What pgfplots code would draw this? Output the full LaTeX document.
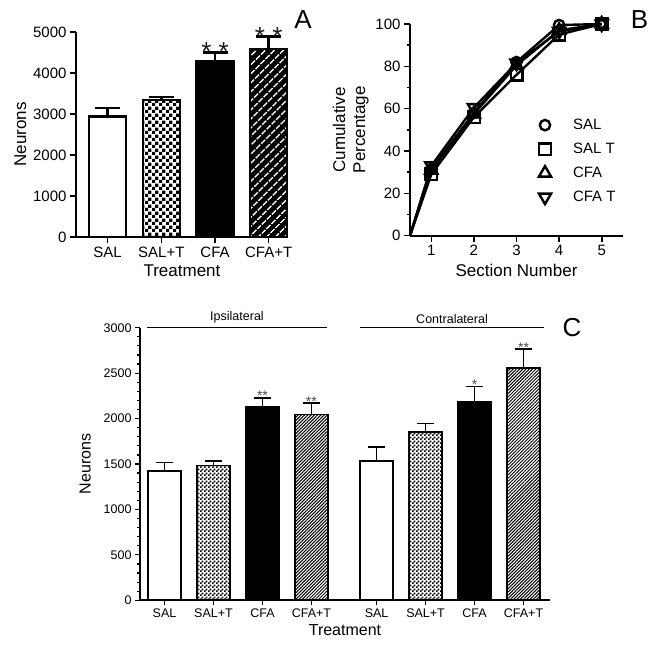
\documentclass[border=0pt]{standalone}
\usepackage{fontspec}
\setmainfont{Liberation Sans}
\usepackage{pgfplots}
\pgfplotsset{compat=1.18}
\usetikzlibrary{patterns,patterns.meta}

\pgfdeclarepatternformonly{bigchecker}{\pgfpointorigin}{\pgfqpoint{6.6pt}{6.6pt}}{\pgfqpoint{6.6pt}{6.6pt}}{%
  \pgfpathrectangle{\pgfpointorigin}{\pgfqpoint{3.35pt}{3.35pt}}%
  \pgfpathrectangle{\pgfqpoint{3.3pt}{3.3pt}}{\pgfqpoint{3.35pt}{3.35pt}}%
  \pgfusepath{fill}}
\pgfdeclarepatternformonly{smallchecker}{\pgfpointorigin}{\pgfqpoint{4pt}{4pt}}{\pgfqpoint{4pt}{4pt}}{%
  \pgfpathrectangle{\pgfpointorigin}{\pgfqpoint{2.05pt}{2.05pt}}%
  \pgfpathrectangle{\pgfqpoint{2pt}{2pt}}{\pgfqpoint{2.05pt}{2.05pt}}%
  \pgfusepath{fill}}

\pgfplotsset{
  prism/.style={
    scale only axis,
    anchor=south west,
    axis lines=left,
    axis line style={-, line width=2pt},
    tick align=outside,
    tick style={black, line width=1.6pt},
    major tick length=6pt,
    minor tick length=3.5pt,
    /pgf/number format/assume math mode=true,
    /pgf/number format/1000 sep={},
    clip=false,
  },
  zerobar/.style={bar shift=0pt},
  errA/.style={error bars/y dir=plus, error bars/y explicit,
    error bars/error bar style={line width=2.4pt, black, solid},
    error bars/error mark options={rotate=90, line width=2.4pt, mark size=12.5pt, black, solid}},
  errC/.style={error bars/y dir=plus, error bars/y explicit,
    error bars/error bar style={line width=1.8pt, black, solid},
    error bars/error mark options={rotate=90, line width=1.8pt, mark size=8.5pt, black, solid}},
}

\begin{document}
\begin{tikzpicture}
\path[use as bounding box] (0,0) rectangle (654pt,648pt);

% ---------------- Panel A ----------------
\begin{axis}[prism,
  at={(76pt,411pt)}, width=212pt, height=205pt,
  xmin=0.41, xmax=4.36, ymin=0, ymax=5000,
  ytick={0,1000,...,5000},
  xtick={1,2,3,4}, xticklabels={SAL,SAL+T,CFA,CFA+T},
  tick label style={font=\fontsize{15}{18}\selectfont},
  label style={font=\fontsize{17}{20}\selectfont},
  xlabel={Treatment}, ylabel={Neurons},
  xlabel style={yshift=-1pt},
  ybar, bar width=0.69,
]
\addplot[zerobar, errA, draw=black, line width=2.5pt, fill=white]
  coordinates {(1,2944) +- (0,196)};
\addplot[zerobar, errA, draw=black, line width=2.5pt, preaction={fill=white}, pattern=bigchecker]
  coordinates {(2,3340) +- (0,80)};
\addplot[zerobar, errA, draw=black, line width=2.5pt, fill=black]
  coordinates {(3,4290) +- (0,210)};
\addplot[zerobar, errA, draw=black, line width=2.5pt, preaction={fill=black},
  pattern={Lines[angle=45,distance=6.4pt,line width=1.6pt]}, pattern color=white]
  coordinates {(4,4590) +- (0,300)};
\node[anchor=base, font=\fontsize{26}{26}\selectfont, text=black!90, yshift=-8.5pt] at (axis cs:3,4500) {* *};
\node[anchor=base, font=\fontsize{26}{26}\selectfont, text=black!90, yshift=-8.5pt] at (axis cs:4,4890) {* *};
\node[font=\fontsize{26}{26}\selectfont] at (axis cs:4.64,5293) {A};
\end{axis}

% ---------------- Panel B ----------------
\begin{axis}[prism,
  at={(410pt,412.3pt)}, width=213pt, height=211.7pt,
  xmin=0.5, xmax=5.5, ymin=0, ymax=100,
  xtick={1,2,3,4,5}, ytick={0,20,...,100}, minor y tick num=1,
  tick label style={font=\fontsize{15}{18}\selectfont},
  label style={font=\fontsize{17}{20}\selectfont},
  xlabel={Section Number}, ylabel={Cumulative\\Percentage},
  ylabel style={align=center},
  xlabel style={yshift=-1pt},
  legend style={draw=none, fill=none, at={(axis cs:3.5,56.1)}, anchor=north west,
    font=\fontsize{15}{18}\selectfont, row sep=8pt, inner sep=0pt,
    nodes={inner sep=0pt, text height=11pt, text depth=2pt}},
  legend cell align=left,
  legend image code/.code={\path[draw=none, fill=none] (0pt,-8pt) rectangle (35pt,8pt); \draw[#1, mark indices={1}] plot coordinates {(7pt,0pt)};},
  every axis plot/.append style={black, line width=2.4pt,
    mark options={solid, fill=white, line width=2.4pt}},
]
\addplot[mark=o, mark size=5.2pt, mark indices={2,3,4,5,6}] coordinates {(0.5,0) (1,31.5) (2,58) (3,82) (4,99.5) (5,100)};
\addlegendentry{SAL}
\addplot[mark=square, mark size=5.8pt, mark indices={2,3,4,5,6}] coordinates {(0.5,0) (1,29) (2,56) (3,76) (4,95) (5,100)};
\addlegendentry{SAL T}
\addplot[mark=triangle, mark size=7pt, mark indices={2,3,4,5,6}] coordinates {(0.5,0) (1,31) (2,57.5) (3,80.5) (4,97) (5,100)};
\addlegendentry{CFA}
\addplot[mark=triangle, mark size=7pt, mark indices={2,3,4,5,6}, mark options={rotate=180}] coordinates {(0.5,0) (1,33) (2,60.5) (3,81.5) (4,96.5) (5,100)};
\addlegendentry{CFA T}
\node[font=\fontsize{26}{26}\selectfont] at (axis cs:5.89,101.9) {B};
\end{axis}

% ---------------- Panel C ----------------
\begin{axis}[prism,
  at={(140pt,47.7pt)}, width=410pt, height=272.6pt,
  xmin=0.5, xmax=8.87, ymin=0, ymax=3000,
  ytick={0,500,...,3000}, minor y tick num=4,
  axis line style={-, line width=1.6pt},
  tick style={black, line width=1.2pt},
  major tick length=5pt, minor tick length=3pt,
  xtick={1,2,3,4,5.33,6.33,7.33,8.33},
  xticklabels={SAL,SAL+T,CFA,CFA+T,SAL,SAL+T,CFA,CFA+T},
  tick label style={font=\fontsize{12.5}{14}\selectfont},
  label style={font=\fontsize{16}{19}\selectfont},
  xlabel={Treatment}, ylabel={Neurons},
  ylabel shift=6pt,
  ybar, bar width=0.68,
]
\addplot[zerobar, errC, draw=black, line width=1.6pt, fill=white]
  coordinates {(1,1420) +- (0,96) (5.33,1530) +- (0,155)};
\addplot[zerobar, errC, draw=black, line width=1.6pt, preaction={fill=white}, pattern=smallchecker]
  coordinates {(2,1483) +- (0,47) (6.33,1855) +- (0,91)};
\addplot[zerobar, errC, draw=black, line width=1.6pt, fill=black]
  coordinates {(3,2126) +- (0,104) (7.33,2182) +- (0,170)};
\addplot[zerobar, errC, draw=black, line width=1.6pt, preaction={fill=white},
  pattern={Lines[angle=45,distance=2.3pt,line width=1pt]}, pattern color=black]
  coordinates {(4,2046) +- (0,121) (8.33,2554) +- (0,209)};
\node[anchor=base, font=\fontsize{14}{14}\selectfont, text=black!70, yshift=-3pt] at (axis cs:3,2230) {**};
\node[anchor=base, font=\fontsize{14}{14}\selectfont, text=black!70, yshift=-3pt] at (axis cs:4,2167) {**};
\node[anchor=base, font=\fontsize{14}{14}\selectfont, text=black!70, yshift=-3pt] at (axis cs:7.33,2352) {*};
\node[anchor=base, font=\fontsize{14}{14}\selectfont, text=black!70, yshift=-3pt] at (axis cs:8.33,2763) {**};
\draw[line width=1.5pt] (axis cs:0.65,3000) -- (axis cs:4.31,3000);
\draw[line width=1.5pt] (axis cs:4.99,3000) -- (axis cs:8.75,3000);
\node[anchor=south, font=\fontsize{12.5}{14}\selectfont, yshift=1pt] at (axis cs:2.48,3000) {Ipsilateral};
\node[anchor=south, font=\fontsize{12.5}{14}\selectfont, yshift=1pt] at (axis cs:6.87,3000) {Contralateral};
\node[font=\fontsize{26}{26}\selectfont] at (axis cs:9.32,3000) {C};
\end{axis}
\end{tikzpicture}
\end{document}
